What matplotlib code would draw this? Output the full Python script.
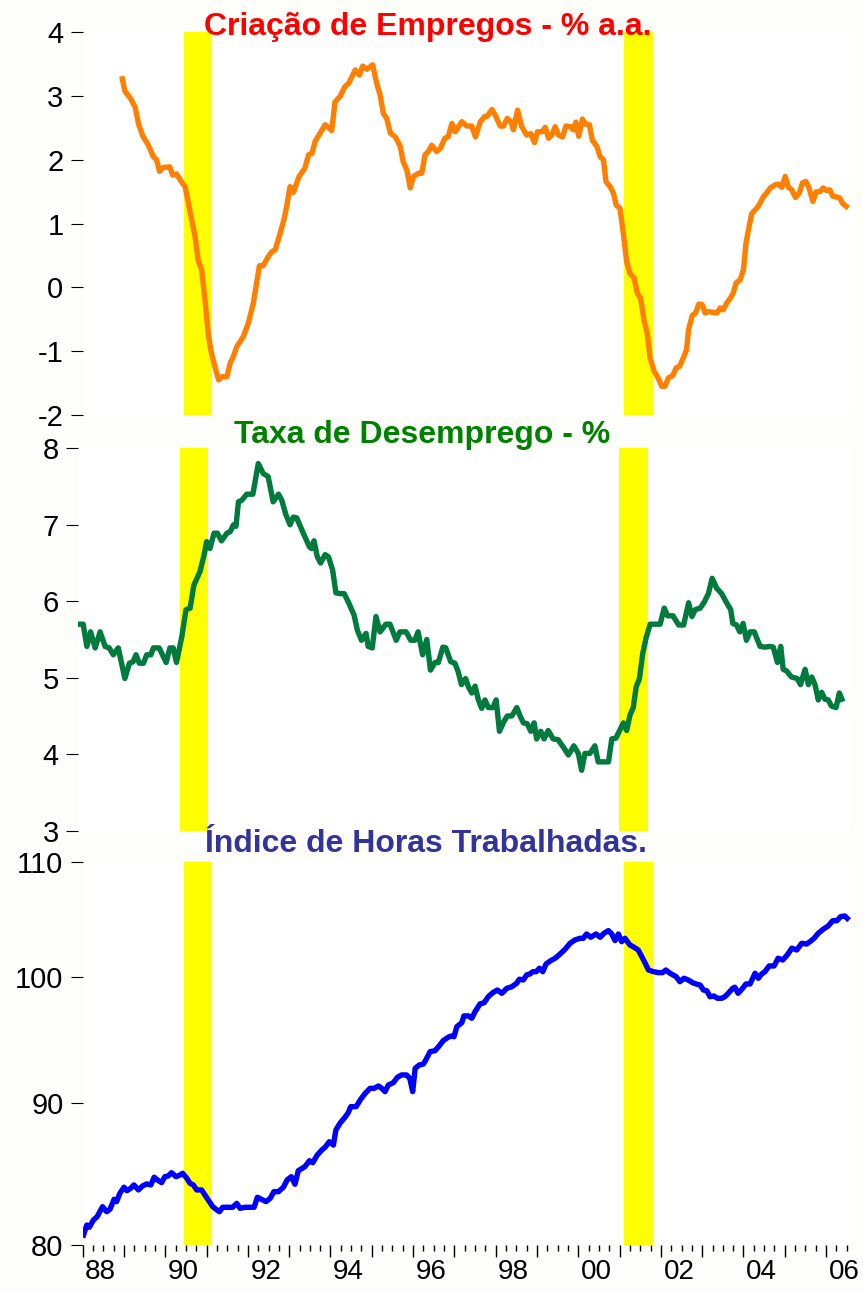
import matplotlib
matplotlib.use('Agg')
import matplotlib.pyplot as plt
from matplotlib.ticker import FixedLocator, NullLocator, FuncFormatter
from matplotlib.transforms import ScaledTranslation

plt.rcParams['font.family'] = ['Liberation Sans', 'DejaVu Sans']

# Criação de Empregos - % a.a.
emp_anos = [1988.96, 1989.02, 1989.15, 1989.27, 1989.35, 1989.45, 1989.59, 1989.71, 1989.79, 1989.86,
            1989.95, 1990.11, 1990.18, 1990.27, 1990.42, 1990.48, 1990.64, 1990.72, 1990.80, 1990.88,
            1990.96, 1991.04, 1991.10, 1991.20, 1991.29, 1991.37, 1991.49, 1991.57, 1991.65, 1991.73,
            1991.89, 1992.01, 1992.13, 1992.21, 1992.28, 1992.37, 1992.49, 1992.58, 1992.66, 1992.76,
            1992.88, 1992.94, 1993.02, 1993.10, 1993.24, 1993.38, 1993.47, 1993.55, 1993.63, 1993.75,
            1993.87, 1994.03, 1994.11, 1994.23, 1994.35, 1994.44, 1994.60, 1994.70, 1994.78, 1994.88,
            1995.02, 1995.12, 1995.20, 1995.28, 1995.36, 1995.45, 1995.57, 1995.69, 1995.76, 1995.85,
            1995.93, 1996.01, 1996.13, 1996.21, 1996.29, 1996.37, 1996.45, 1996.57, 1996.66, 1996.77,
            1996.85, 1996.94, 1997.02, 1997.18, 1997.30, 1997.42, 1997.51, 1997.63, 1997.73, 1997.79,
            1997.91, 1997.99, 1998.11, 1998.19, 1998.28, 1998.37, 1998.43, 1998.53, 1998.63, 1998.75,
            1998.85, 1998.94, 1999.01, 1999.12, 1999.20, 1999.28, 1999.36, 1999.44, 1999.52, 1999.62,
            1999.70, 1999.81, 1999.88, 1999.94, 2000.01, 2000.10, 2000.17, 2000.27, 2000.34, 2000.45,
            2000.53, 2000.61, 2000.67, 2000.77, 2000.85, 2000.92, 2001.01, 2001.09, 2001.17, 2001.25,
            2001.35, 2001.43, 2001.51, 2001.59, 2001.67, 2001.74, 2001.84, 2001.92, 2002.02, 2002.10,
            2002.18, 2002.29, 2002.37, 2002.45, 2002.54, 2002.62, 2002.67, 2002.76, 2002.84, 2002.92,
            2003.00, 2003.07, 2003.15, 2003.27, 2003.36, 2003.44, 2003.51, 2003.60, 2003.68, 2003.75,
            2003.82, 2003.92, 2004.00, 2004.06, 2004.12, 2004.20, 2004.32, 2004.40, 2004.48, 2004.56,
            2004.65, 2004.77, 2004.84, 2004.93, 2005.01, 2005.09, 2005.17, 2005.26, 2005.35, 2005.43,
            2005.51, 2005.59, 2005.68, 2005.76, 2005.85, 2005.93, 2006.01, 2006.09, 2006.16, 2006.25,
            2006.33, 2006.41, 2006.49]
emp_vals = [3.27, 3.08, 2.97, 2.83, 2.57, 2.38, 2.23, 2.05, 2.00, 1.82,
            1.88, 1.89, 1.76, 1.78, 1.63, 1.58, 1.06, 0.80, 0.41, 0.28,
            -0.19, -0.72, -0.98, -1.24, -1.45, -1.40, -1.40, -1.19, -1.08, -0.93,
            -0.77, -0.56, -0.25, 0.07, 0.34, 0.34, 0.48, 0.56, 0.59, 0.80,
            1.08, 1.27, 1.58, 1.49, 1.74, 1.87, 2.08, 2.10, 2.29, 2.42,
            2.55, 2.46, 2.91, 2.99, 3.15, 3.20, 3.41, 3.33, 3.47, 3.42,
            3.49, 3.20, 3.02, 2.73, 2.65, 2.42, 2.36, 2.21, 1.97, 1.84,
            1.56, 1.74, 1.79, 1.79, 2.08, 2.13, 2.23, 2.13, 2.18, 2.34,
            2.36, 2.57, 2.44, 2.60, 2.53, 2.53, 2.36, 2.60, 2.68, 2.68,
            2.79, 2.70, 2.53, 2.53, 2.65, 2.60, 2.47, 2.78, 2.52, 2.39,
            2.41, 2.27, 2.44, 2.44, 2.51, 2.34, 2.39, 2.52, 2.39, 2.36,
            2.53, 2.52, 2.47, 2.59, 2.37, 2.64, 2.56, 2.55, 2.31, 2.21,
            2.05, 2.00, 1.66, 1.58, 1.48, 1.29, 1.24, 0.85, 0.41, 0.22,
            0.15, -0.09, -0.17, -0.51, -0.72, -1.11, -1.32, -1.40, -1.55, -1.55,
            -1.42, -1.38, -1.26, -1.24, -1.11, -0.98, -0.66, -0.44, -0.40, -0.26,
            -0.27, -0.40, -0.38, -0.39, -0.40, -0.32, -0.35, -0.24, -0.17, -0.09,
            0.07, 0.12, 0.28, 0.69, 0.90, 1.16, 1.24, 1.32, 1.42, 1.48,
            1.56, 1.61, 1.62, 1.57, 1.74, 1.57, 1.53, 1.41, 1.48, 1.64,
            1.66, 1.56, 1.35, 1.50, 1.50, 1.56, 1.52, 1.53, 1.43, 1.42,
            1.40, 1.31, 1.27]

# Taxa de Desemprego - %
des_anos = [1988.00, 1988.12, 1988.21, 1988.30, 1988.41, 1988.53, 1988.65, 1988.75, 1988.85, 1988.97,
            1989.13, 1989.24, 1989.33, 1989.40, 1989.48, 1989.58, 1989.66, 1989.76, 1989.82, 1989.96,
            1990.13, 1990.22, 1990.30, 1990.38, 1990.51, 1990.61, 1990.71, 1990.80, 1990.95, 1991.05,
            1991.11, 1991.19, 1991.29, 1991.37, 1991.47, 1991.60, 1991.68, 1991.76, 1991.82, 1991.88,
            1991.96, 1992.08, 1992.23, 1992.36, 1992.48, 1992.60, 1992.72, 1992.85, 1992.93, 1993.03,
            1993.13, 1993.21, 1993.29, 1993.45, 1993.60, 1993.65, 1993.71, 1993.79, 1993.87, 1993.98,
            1994.06, 1994.16, 1994.24, 1994.34, 1994.44, 1994.54, 1994.68, 1994.76, 1994.86, 1994.97,
            1995.02, 1995.12, 1995.21, 1995.31, 1995.45, 1995.55, 1995.70, 1995.79, 1995.94, 1996.05,
            1996.15, 1996.23, 1996.34, 1996.44, 1996.53, 1996.64, 1996.72, 1996.83, 1996.90, 1997.02,
            1997.12, 1997.20, 1997.28, 1997.38, 1997.45, 1997.53, 1997.61, 1997.69, 1997.77, 1997.85,
            1997.93, 1998.04, 1998.12, 1998.20, 1998.31, 1998.39, 1998.50, 1998.62, 1998.70, 1998.78,
            1998.87, 1998.96, 1999.04, 1999.10, 1999.20, 1999.28, 1999.38, 1999.50, 1999.62, 1999.75,
            1999.87, 2000.00, 2000.11, 2000.19, 2000.27, 2000.39, 2000.51, 2000.59, 2000.71, 2000.84,
            2000.92, 2001.02, 2001.12, 2001.20, 2001.28, 2001.36, 2001.44, 2001.51, 2001.59, 2001.67,
            2001.75, 2001.85, 2001.97, 2002.09, 2002.19, 2002.27, 2002.40, 2002.54, 2002.66, 2002.78,
            2002.86, 2002.94, 2003.06, 2003.16, 2003.26, 2003.35, 2003.46, 2003.58, 2003.70, 2003.80,
            2003.85, 2003.94, 2004.02, 2004.10, 2004.18, 2004.27, 2004.37, 2004.51, 2004.63, 2004.75,
            2004.83, 2004.93, 2005.01, 2005.07, 2005.15, 2005.27, 2005.41, 2005.49, 2005.60, 2005.68,
            2005.76, 2005.84, 2005.92, 2006.00, 2006.08, 2006.16, 2006.24, 2006.35, 2006.43, 2006.49]
des_vals = [5.70, 5.70, 5.41, 5.60, 5.39, 5.60, 5.41, 5.39, 5.30, 5.39,
            4.99, 5.19, 5.21, 5.30, 5.19, 5.19, 5.30, 5.30, 5.39, 5.39,
            5.20, 5.39, 5.39, 5.20, 5.54, 5.89, 5.91, 6.21, 6.39, 6.61,
            6.78, 6.69, 6.89, 6.89, 6.79, 6.89, 6.91, 7.00, 6.98, 7.30,
            7.32, 7.40, 7.40, 7.80, 7.67, 7.63, 7.30, 7.40, 7.32, 7.13,
            7.00, 7.10, 7.09, 6.89, 6.71, 6.69, 6.79, 6.58, 6.50, 6.61,
            6.58, 6.41, 6.11, 6.10, 6.10, 5.99, 5.82, 5.62, 5.49, 5.58,
            5.41, 5.39, 5.80, 5.60, 5.70, 5.70, 5.49, 5.60, 5.60, 5.49,
            5.49, 5.60, 5.30, 5.50, 5.10, 5.20, 5.20, 5.40, 5.39, 5.21,
            5.19, 5.08, 4.91, 4.99, 4.88, 4.80, 4.89, 4.71, 4.60, 4.71,
            4.61, 4.61, 4.71, 4.30, 4.43, 4.50, 4.50, 4.61, 4.50, 4.41,
            4.40, 4.30, 4.41, 4.20, 4.30, 4.20, 4.31, 4.20, 4.19, 4.09,
            3.99, 4.11, 4.01, 3.79, 4.01, 4.01, 4.11, 3.90, 3.90, 3.90,
            4.20, 4.21, 4.32, 4.41, 4.31, 4.51, 4.61, 4.88, 4.99, 5.32,
            5.52, 5.70, 5.70, 5.70, 5.91, 5.81, 5.81, 5.69, 5.69, 5.98,
            5.80, 5.89, 5.91, 5.99, 6.10, 6.30, 6.17, 6.10, 5.98, 5.89,
            5.71, 5.69, 5.60, 5.71, 5.49, 5.60, 5.60, 5.41, 5.40, 5.41,
            5.40, 5.20, 5.41, 5.11, 5.09, 5.01, 4.99, 4.91, 5.11, 4.91,
            5.01, 4.91, 4.71, 4.81, 4.72, 4.71, 4.63, 4.61, 4.80, 4.72]

# Índice de Horas Trabalhadas (escala log)
hor_anos = [1988.02, 1988.10, 1988.16, 1988.26, 1988.35, 1988.48, 1988.58, 1988.66, 1988.76, 1988.82,
            1988.90, 1989.00, 1989.07, 1989.16, 1989.24, 1989.35, 1989.45, 1989.55, 1989.65, 1989.73,
            1989.81, 1989.91, 1989.99, 1990.07, 1990.15, 1990.26, 1990.36, 1990.42, 1990.52, 1990.60,
            1990.68, 1990.76, 1990.88, 1990.96, 1991.04, 1991.15, 1991.23, 1991.31, 1991.39, 1991.53,
            1991.63, 1991.73, 1991.81, 1991.93, 1992.05, 1992.15, 1992.23, 1992.33, 1992.44, 1992.54,
            1992.63, 1992.74, 1992.86, 1992.95, 1993.05, 1993.14, 1993.22, 1993.38, 1993.49, 1993.57,
            1993.68, 1993.79, 1993.87, 1993.97, 1994.07, 1994.13, 1994.23, 1994.35, 1994.43, 1994.49,
            1994.62, 1994.73, 1994.84, 1994.96, 1995.06, 1995.16, 1995.24, 1995.32, 1995.40, 1995.52,
            1995.62, 1995.72, 1995.84, 1995.92, 1995.99, 1996.05, 1996.15, 1996.25, 1996.33, 1996.41,
            1996.53, 1996.63, 1996.73, 1996.85, 1996.93, 1996.99, 1997.06, 1997.18, 1997.23, 1997.34,
            1997.42, 1997.50, 1997.62, 1997.72, 1997.82, 1997.93, 1998.04, 1998.15, 1998.27, 1998.39,
            1998.51, 1998.57, 1998.67, 1998.75, 1998.83, 1998.90, 1998.98, 1999.06, 1999.14, 1999.22,
            1999.33, 1999.44, 1999.56, 1999.68, 1999.80, 1999.92, 2000.04, 2000.12, 2000.20, 2000.30,
            2000.43, 2000.53, 2000.62, 2000.73, 2000.81, 2000.89, 2000.97, 2001.05, 2001.13, 2001.25,
            2001.35, 2001.45, 2001.53, 2001.62, 2001.70, 2001.82, 2001.94, 2002.04, 2002.12, 2002.22,
            2002.37, 2002.46, 2002.56, 2002.66, 2002.77, 2002.85, 2002.95, 2003.03, 2003.11, 2003.19,
            2003.28, 2003.37, 2003.47, 2003.55, 2003.63, 2003.74, 2003.79, 2003.87, 2003.96, 2004.06,
            2004.16, 2004.28, 2004.36, 2004.44, 2004.52, 2004.62, 2004.74, 2004.84, 2004.95, 2005.06,
            2005.17, 2005.29, 2005.41, 2005.53, 2005.61, 2005.71, 2005.81, 2005.93, 2006.05, 2006.16,
            2006.26, 2006.35, 2006.45, 2006.51]
hor_vals = [80.67, 81.34, 81.19, 81.68, 81.91, 82.59, 82.25, 82.41, 83.10, 82.94,
            83.52, 83.94, 83.70, 83.86, 84.10, 83.75, 84.03, 84.17, 84.10, 84.64,
            84.45, 84.26, 84.68, 84.73, 84.96, 84.68, 84.80, 84.92, 84.57, 84.21,
            84.10, 83.75, 83.75, 83.40, 83.05, 82.59, 82.41, 82.25, 82.55, 82.55,
            82.55, 82.82, 82.48, 82.55, 82.55, 82.55, 83.24, 83.10, 82.94, 83.17,
            83.63, 83.63, 83.94, 84.45, 84.68, 84.15, 85.10, 85.39, 85.81, 85.67,
            86.22, 86.58, 86.78, 87.18, 86.94, 88.03, 88.53, 88.97, 89.31, 89.76,
            89.76, 90.31, 90.76, 91.14, 91.14, 91.32, 91.14, 90.89, 91.39, 91.57,
            91.98, 92.16, 92.16, 91.90, 90.89, 92.67, 92.93, 93.00, 93.45, 93.96,
            94.04, 94.41, 94.83, 95.10, 95.20, 95.14, 95.94, 96.26, 96.80, 96.80,
            96.61, 97.14, 97.77, 97.87, 98.36, 98.69, 98.91, 98.64, 99.05, 99.18,
            99.47, 99.80, 99.74, 100.16, 100.24, 100.43, 100.43, 100.72, 100.43, 101.08,
            101.35, 101.56, 101.92, 102.32, 102.83, 103.12, 103.26, 103.26, 103.63, 103.35,
            103.63, 103.35, 103.69, 103.92, 103.63, 103.06, 103.63, 102.97, 103.26, 102.69,
            102.49, 102.26, 101.75, 101.14, 100.57, 100.43, 100.35, 100.35, 100.57, 100.30,
            100.01, 99.60, 99.88, 99.74, 99.51, 99.41, 99.32, 98.91, 98.85, 98.36,
            98.42, 98.23, 98.23, 98.36, 98.64, 99.05, 99.14, 98.64, 98.97, 99.41,
            99.41, 100.30, 99.88, 100.24, 100.43, 100.91, 100.91, 101.56, 101.41, 101.84,
            102.41, 102.26, 102.83, 102.77, 102.97, 103.26, 103.69, 104.04, 104.32, 104.78,
            104.78, 105.13, 105.20, 104.99]

# recessões (faixas amarelas)
rec_inicio = [1990.46, 2001.10]
rec_fim = [1991.14, 2001.80]

anos_ticks = list(range(1988, 2007))

W, H = 863, 1291
fig = plt.figure(figsize=(W / 100, H / 100), dpi=100, facecolor='#fdfdf9')


def caixa(esq, topo, dir, base):
    return [esq / W, 1 - base / H, (dir - esq) / W, (base - topo) / H]


ax1 = fig.add_axes(caixa(82.7, 32.3, 855.0, 415.0))
ax2 = fig.add_axes(caixa(78.2, 448.3, 850.5, 830.7))
ax3 = fig.add_axes(caixa(82.7, 862.3, 855.0, 1245.0))

paineis = [
    (ax1, emp_anos, emp_vals, '#ff8000', (-2, 4), [-2, -1, 0, 1, 2, 3, 4]),
    (ax2, des_anos, des_vals, '#007a3d', (3, 8), [3, 4, 5, 6, 7, 8]),
    (ax3, hor_anos, hor_vals, '#0000ff', (80, 110), [80, 90, 100, 110]),
]

for ax, x, y, cor, lim, yt in paineis:
    ax.set_facecolor('white')
    for a, b in zip(rec_inicio, rec_fim):
        ax.axvspan(a, b, color='#ffff00', lw=0, zorder=1)
    ax.plot(x, y, color=cor, lw=3.9, solid_joinstyle='round', zorder=3)
    if ax is ax3:
        ax.set_yscale('log')
    ax.set_ylim(*lim)
    ax.set_xlim(1988, 2006.7)
    ax.yaxis.set_major_locator(FixedLocator(yt))
    ax.yaxis.set_minor_locator(NullLocator())
    ax.yaxis.set_major_formatter(FuncFormatter(lambda v, p: '%d' % round(v)))
    for s in ax.spines.values():
        s.set_visible(False)
    ax.tick_params(axis='y', which='major', direction='out', length=8.4, width=0.8,
                   pad=5.5, labelsize=21, colors='black')
    ax.tick_params(axis='x', which='both', bottom=False, labelbottom=False)

# eixo x do painel de baixo: ano (traço longo) e trimestres (traço curto)
ax3.xaxis.set_major_locator(FixedLocator(anos_ticks))
ax3.xaxis.set_minor_locator(FixedLocator([a + q / 4 for a in anos_ticks for q in (1, 2, 3)]))
ax3.xaxis.set_major_formatter(FuncFormatter(lambda v, p: ('%02d' % (int(round(v)) % 100)) if int(round(v)) % 2 == 0 else ''))
ax3.tick_params(axis='x', which='major', bottom=True, labelbottom=True, direction='out',
                length=8.6, width=1.0, pad=1.5, labelsize=20)
ax3.tick_params(axis='x', which='minor', bottom=True, direction='out', length=4.3, width=1.0)
desloc = ScaledTranslation(0.18, 0, fig.dpi_scale_trans)
for lab in ax3.xaxis.get_majorticklabels():
    lab.set_transform(lab.get_transform() + desloc)

# títulos
fig.text(428 / W, 1 - 35 / H, 'Criação de Empregos - % a.a.', color='#ff0000', fontsize=23,
         fontweight='bold', ha='center', va='baseline', zorder=10)
fig.text(422 / W, 1 - 443 / H, 'Taxa de Desemprego - %', color='#008000', fontsize=23,
         fontweight='bold', ha='center', va='baseline', zorder=10)
fig.text(426 / W, 1 - 852 / H, 'Índice de Horas Trabalhadas.', color='#333399', fontsize=23,
         fontweight='bold', ha='center', va='baseline', zorder=10)

fig.savefig('out.png', dpi=100, facecolor=fig.get_facecolor())
